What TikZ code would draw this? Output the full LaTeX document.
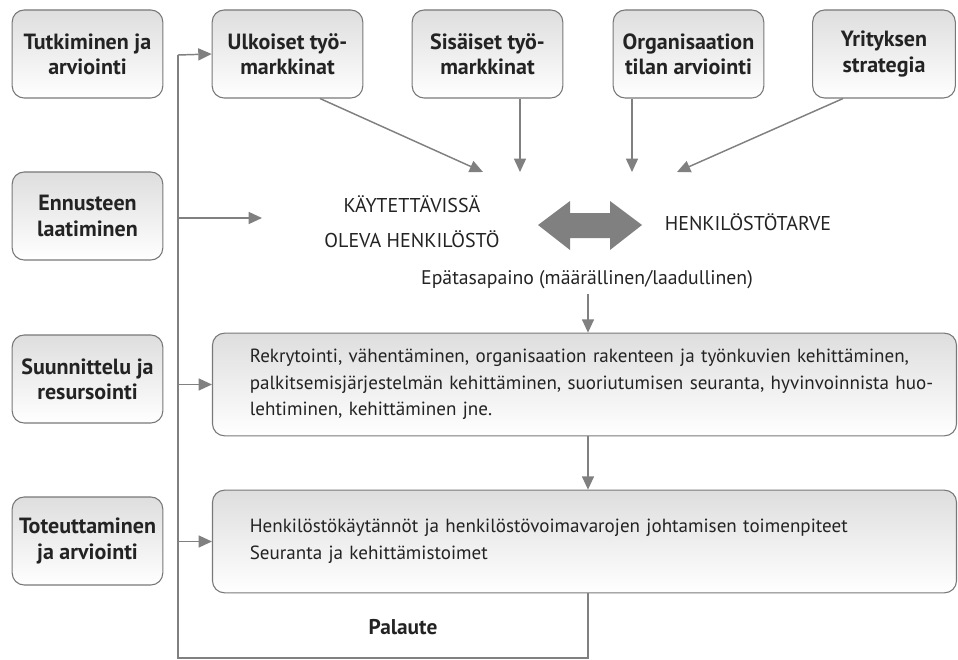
\documentclass[tikz,border=0pt]{standalone}
\usepackage{fontspec}
\setmainfont{PT Sans}
\usetikzlibrary{arrows.meta,positioning,calc}
\definecolor{lineg}{RGB}{120,120,120}
\definecolor{arrg}{RGB}{128,128,128}
\definecolor{txt}{RGB}{35,35,35}
\tikzset{
  every node/.style={text=txt},
  stage/.style={draw=lineg,line width=0.8pt,rounded corners=9pt,top color=black!13,bottom color=white,
                align=center,font=\fontsize{16.5}{19}\selectfont\bfseries,
                minimum width=113pt,minimum height=66pt,inner sep=2pt},
  wide/.style={draw=lineg,line width=0.8pt,rounded corners=9pt,top color=black!13,bottom color=white,
               align=left,font=\fontsize{14.3}{20}\selectfont,text width=558pt,
               minimum height=77pt,inner sep=0pt},
  caps/.style={align=center,font=\fontsize{15}{26}\selectfont},
  flow/.style={draw=arrg,line width=1.1pt,arrows={-Triangle[length=10pt,width=9pt,fill=arrg]}},
  spine/.style={draw=arrg,line width=1.1pt},
}
\begin{document}
\begin{tikzpicture}[x=0.75pt,y=-0.75pt]
  \useasboundingbox (0,0) rectangle (958,660);
  % left column (centres x 87.5)
  \node[stage] (tut) at (87.5,54)  {Tutkiminen ja\\arviointi};
  \node[stage] (enn) at (87.5,216) {Ennusteen\\laatiminen};
  \node[stage] (suu) at (87.5,379) {Suunnittelu ja\\resursointi};
  \node[stage] (tot) at (87.5,541) {Toteuttaminen\\ja arviointi};

  % top row
  \node[stage] (ulk) at (287.5,54) {Ulkoiset työ-\\markkinat};
  \node[stage] (sis) at (487.5,54) {Sisäiset työ-\\markkinat};
  \node[stage] (org) at (688.5,54) {Organisaation\\tilan arviointi};
  \node[stage,minimum width=107pt] (yri) at (884,54) {Yrityksen\\strategia};

  % middle
  \node[caps] (kay) at (412,222) {KÄYTETTÄVISSÄ\\OLEVA HENKILÖSTÖ};
  \node[caps] (tar) at (748,222) {HENKILÖSTÖTARVE};
  \node[font=\fontsize{14.8}{17}\selectfont] (epa) at (587,280) {Epätasapaino (määrällinen/laadullinen)};
  \fill[arrg] (538,225) -- (570,201) -- (570,213) -- (610,213) -- (610,201)
    -- (642,225) -- (610,250) -- (610,238) -- (570,238) -- (570,250) -- cycle;

  % action boxes
  \node[wide] (rek) at (584.5,384.5) {\hspace*{28pt}\parbox{525pt}{Rekrytointi, vähentäminen, organisaation rakenteen ja työnkuvien kehittäminen,\\
    palkitsemisjärjestelmän kehittäminen, suoriutumisen seuranta, hyvinvoinnista huo-\\
    lehtiminen, kehittäminen jne.}};
  \node[wide] (hen) at (584.5,541.5) {\hspace*{28pt}\parbox{525pt}{Henkilöstökäytännöt ja henkilöstövoimavarojen johtamisen toimenpiteet\\
    Seuranta ja kehittämistoimet}};
  \node[font=\fontsize{16}{18}\selectfont\bfseries] (pal) at (403,627) {Palaute};

  % arrow ends
  \coordinate (k1) at (483,172);
  \coordinate (k2) at (520,172);
  \coordinate (t1) at (632,172);
  \coordinate (t2) at (677,172);
  \coordinate (s0) at (178,55);
  \coordinate (s1) at (178,218);
  \coordinate (e1) at (262,218);
  \coordinate (fb) at (588,658);

  \draw[flow] (ulk.south -| 320,0) -- (k1);
  \draw[flow] (sis.south -| 520,0) -- (k2);
  \draw[flow] (org.south -| 632,0) -- (t1);
  \draw[flow] (yri.south -| 843,0) -- (t2);
  \draw[flow] (epa.south -| 588,0) -- (rek.north -| 588,0);
  \draw[flow] (rek.south -| 588,0) -- (hen.north -| 588,0);

  % feedback loop
  \draw[spine] (hen.south -| fb) -- (fb) -- (fb -| s0) -- (s0);
  \draw[flow] (s0) -- (ulk.west);
  \draw[flow] (s1) -- (e1);
  \draw[flow] (rek.west -| s0) -- (rek.west);
  \draw[flow] (hen.west -| s0) -- (hen.west);
\end{tikzpicture}
\end{document}
